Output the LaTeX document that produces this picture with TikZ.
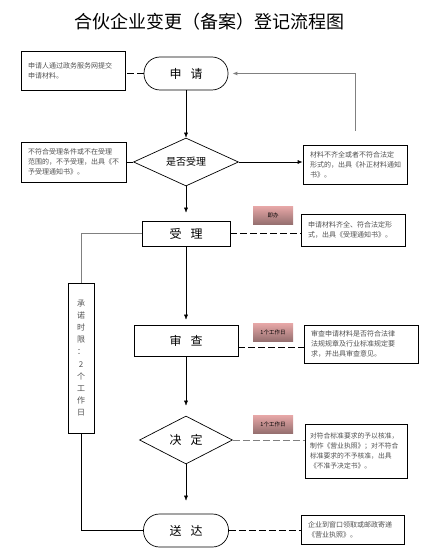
\documentclass[tikz,border=0pt]{standalone}
\usepackage{fontspec}
\setmainfont{Noto Sans CJK SC}
\usepackage{xcolor}
\usepackage{tikz}
\usetikzlibrary{shapes.geometric,arrows.meta}
\definecolor{notegray}{RGB}{80,80,80}
\definecolor{linegray}{RGB}{128,128,128}
\definecolor{pinktop}{RGB}{232,168,168}
\definecolor{pinkbot}{RGB}{150,112,112}

\begin{document}
\begin{tikzpicture}[x=1pt,y=1pt,>={Latex[length=5pt,width=4pt]},
    stepnode/.style={draw,line width=0.7pt,inner sep=0pt,font=\fontsize{12}{14}\selectfont},
    roundnode/.style={stepnode,rounded corners=16pt},
    choicenode/.style={stepnode,diamond,aspect=2.2},
    notebox/.style={draw,line width=0.7pt,inner xsep=7pt,inner ysep=0pt,align=left,text=notegray,font=\fontsize{7}{10}\selectfont},
    timetag/.style={top color=pinktop,bottom color=pinkbot,inner sep=0pt,minimum width=40pt,minimum height=18pt,font=\fontsize{5.5}{6}\selectfont},
    linkline/.style={dash pattern=on 7pt off 3pt,line width=0.8pt},
    backline/.style={linegray,line width=1pt}]
                \useasboundingbox (0,0) rectangle (426,-553);
                \node (title) at (209,-22) {\fontsize{18}{21}\selectfont 合伙企业变更（备案）登记流程图};
                \node [roundnode, minimum width=84pt, minimum height=33pt] (apply) at (186,-73.5) {申\hspace{.75em}请};
                \node [choicenode, minimum width=105pt, minimum height=48pt, font=\fontsize{10}{12}\selectfont] (check) at (186,-162) {是否受理};
                \node [stepnode, minimum width=88pt, minimum height=25pt] (accept) at (186,-233.5) {受\hspace{.75em}理};
                \node [stepnode, minimum width=104pt, minimum height=31pt] (review) at (186,-340.5) {审\hspace{.75em}查};
                \node [choicenode, minimum width=93pt, minimum height=48pt] (decide) at (186,-440) {决\hspace{.75em}定};
                \node [roundnode, minimum width=85pt, minimum height=33pt] (deliver) at (186,-530.5) {送\hspace{.75em}达};
                \node [notebox, text width=90pt, minimum height=39pt] (applynote) at (73,-70.5) {申请人通过政务服务网提交\\申请材料。};
                \node [notebox, text width=91pt, minimum height=40pt] (refusenote) at (73.5,-162) {不符合受理条件或不在受理\\范围的，不予受理，出具《不\\予受理通知书》。};
                \node [notebox, text width=90pt, minimum height=39pt] (amendnote) at (355,-164.5) {材料不齐全或者不符合法定\\形式的，出具《补正材料通知\\书》。};
                \node [notebox, text width=90pt, minimum height=32pt] (acceptnote) at (353,-230) {申请材料齐全、符合法定形\\式，出具《受理通知书》。};
                \node [notebox, text width=100pt, minimum height=38pt] (reviewnote) at (361,-344) {审查申请材料是否符合法律\\法规规章及行业标准规定要\\求，并出具审查意见。};
                \node [notebox, inner xsep=5pt, text width=92pt, minimum height=54pt, font=\fontsize{6.8}{10}\selectfont] (decidenote) at (356,-451) {对符合标准要求的予以核准，\\制作《营业执照》；对不符合\\标准要求的不予核准，出具\\《不准予决定书》。};
                \node [notebox, text width=89pt, minimum height=29pt] (delivernote) at (352.5,-529.5) {企业到窗口领取或邮政寄递\\《营业执照》。};
                \node [draw, line width=0.7pt, inner sep=0pt, minimum width=26pt, minimum height=150pt, text width=8pt, align=center, text=notegray, font=\fontsize{8}{12.2}\selectfont] (limitnote) at (81,-358) {承\\诺\\时\\限\\：\\2\\个\\工\\作\\日};
                \node [timetag] (accepttime) at (273,-215) {即办};
                \node [timetag] (reviewtime) at (273,-332) {1个工作日};
                \node [timetag] (decidetime) at (273,-424) {1个工作日};
                \draw [linkline] (apply.west) -- (apply.west -| applynote.east);
                \draw [->] (apply) -- (check);
                \draw [line width=0.7pt] (check.west) -- (check.west -| refusenote.east);
                \draw [->, line width=0.7pt] (check.east) -- (check.east -| amendnote.west);
                \draw [->, backline, shorten <=14pt, shorten >=4pt] (amendnote.north) |- (apply.east);
                \draw [->, shorten >=8pt] (check) -- (accept);
                \draw [linkline] (accept.east) -- (accept.east -| acceptnote.west);
                \draw [backline] (accept.west) -| (limitnote.north);
                \draw [line width=0.7pt] (limitnote.south) |- (deliver.west);
                \draw [->, shorten >=5pt] (accept) -- (review);
                \draw [linkline] ([yshift=-7pt]review.east) -- ([yshift=-7pt]review.east -| reviewnote.west);
                \draw [->, shorten >=10pt] (review) -- (decide);
                \draw [linkline, linegray] (decide.east) -- (decide.east -| decidenote.west);
                \draw [->, shorten >=13pt] (decide) -- (deliver);
                \draw [linkline] (deliver.east) -- (deliver.east -| delivernote.west);
            \end{tikzpicture}
\end{document}
